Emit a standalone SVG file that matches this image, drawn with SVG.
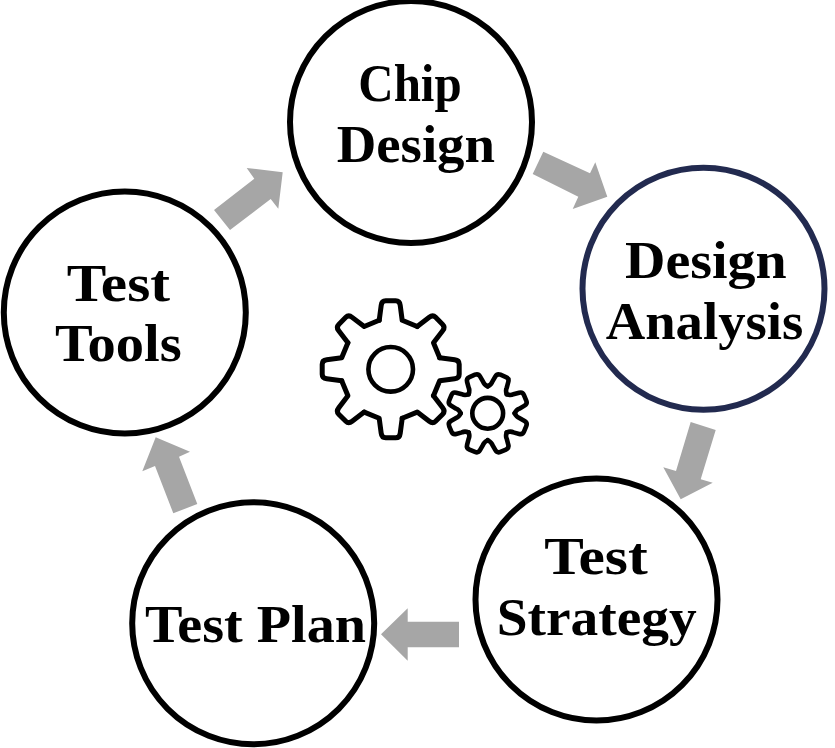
<svg xmlns="http://www.w3.org/2000/svg" width="835" height="748" viewBox="0 0 835 748">
<style>
.c{fill:#fff;stroke:#000;stroke-width:6}
.t{font-family:"Liberation Serif",serif;font-weight:700;font-size:52px;fill:#000}
.a{fill:#a6a6a6}
.g{fill:none;stroke:#000;stroke-linejoin:round;stroke-linecap:round}
</style>
<defs>
<path id="tooth" d="M-11.5,-49 L-9.5,-64 Q-9,-68.5 -5,-68.5 L5,-68.5 Q9,-68.5 9.5,-64 L11.5,-49 L26.5,-42.8"/>
<path id="toothS" d="M-10.3,-24.9 Q-7.5,-28 -7.8,-31 L-7,-37 Q-6.5,-40.5 -3,-40.5 L3,-40.5 Q6.5,-40.5 7,-37 L7.8,-31 Q7.5,-28 10.3,-24.9"/>
<g id="gear">
<use href="#tooth"/><use href="#tooth" transform="rotate(45)"/><use href="#tooth" transform="rotate(90)"/><use href="#tooth" transform="rotate(135)"/><use href="#tooth" transform="rotate(180)"/><use href="#tooth" transform="rotate(225)"/><use href="#tooth" transform="rotate(270)"/><use href="#tooth" transform="rotate(315)"/>
</g>
<g id="gearS">
<use href="#toothS"/><use href="#toothS" transform="rotate(45)"/><use href="#toothS" transform="rotate(90)"/><use href="#toothS" transform="rotate(135)"/><use href="#toothS" transform="rotate(180)"/><use href="#toothS" transform="rotate(225)"/><use href="#toothS" transform="rotate(270)"/><use href="#toothS" transform="rotate(315)"/>
</g>
</defs>
<rect width="835" height="748" fill="#fff"/>
<g id="connectors">
<polygon class="a" points="543.3,151.7 532.7,174 578.3,196.7 572.7,209 607.3,196.7 595.3,162.3 590,173.3"/>
<polygon class="a" points="690.7,422 715.7,430 700.7,479.3 712.7,482.7 680.7,499.3 663.3,467.3 676,471"/>
<polygon class="a" points="459,621.7 407.7,621.7 407.7,608.3 381,634.3 407.7,660.7 407.7,647.3 459,647.3"/>
<polygon class="a" points="173.3,513.3 197.3,504 179,456.7 190,451.7 155.7,437.3 142.3,471.3 155,466"/>
<polygon class="a" points="214,210 230,230 270.7,199 278.3,208.7 282.7,172.3 246.7,168 254.3,178.7"/>
</g>
<g id="chip-design">
<circle class="c" cx="411" cy="122" r="121"/>
<text class="t" x="358.3" y="100.5" textLength="103.4" lengthAdjust="spacingAndGlyphs">Chip</text>
<text class="t" x="336.7" y="161.7" textLength="158.3" lengthAdjust="spacingAndGlyphs">Design</text>
</g>
<g id="design-analysis">
<circle cx="703.5" cy="288.7" r="121" fill="#fff" stroke="#222a4f" stroke-width="6"/>
<text class="t" x="625" y="278" textLength="161.7" lengthAdjust="spacingAndGlyphs">Design</text>
<text class="t" x="605.7" y="339" textLength="197.6" lengthAdjust="spacingAndGlyphs">Analysis</text>
</g>
<g id="test-strategy">
<circle class="c" cx="596.5" cy="599.5" r="121"/>
<text class="t" x="544.3" y="574" textLength="103.4" lengthAdjust="spacingAndGlyphs">Test</text>
<text class="t" x="496.7" y="635" textLength="200" lengthAdjust="spacingAndGlyphs">Strategy</text>
</g>
<g id="test-plan">
<circle class="c" cx="253.2" cy="623.2" r="121"/>
<text class="t" x="145" y="642.3" textLength="221" lengthAdjust="spacingAndGlyphs">Test Plan</text>
</g>
<g id="test-tools">
<circle class="c" cx="124.8" cy="312.5" r="121"/>
<text class="t" x="66.7" y="300.7" textLength="103.3" lengthAdjust="spacingAndGlyphs">Test</text>
<text class="t" x="55" y="361" textLength="126.7" lengthAdjust="spacingAndGlyphs">Tools</text>
</g>
<g id="gears">
<use href="#gear" class="g" stroke-width="5" transform="translate(390.7,369.3)"/>
<circle class="g" cx="390.7" cy="369.3" r="22.3" stroke-width="4.6"/>
<use href="#gearS" class="g" stroke-width="4.6" transform="translate(487.7,413.3) rotate(22.5)"/>
<circle class="g" cx="487.7" cy="413.3" r="15.4" stroke-width="4.6"/>
</g>
</svg>
